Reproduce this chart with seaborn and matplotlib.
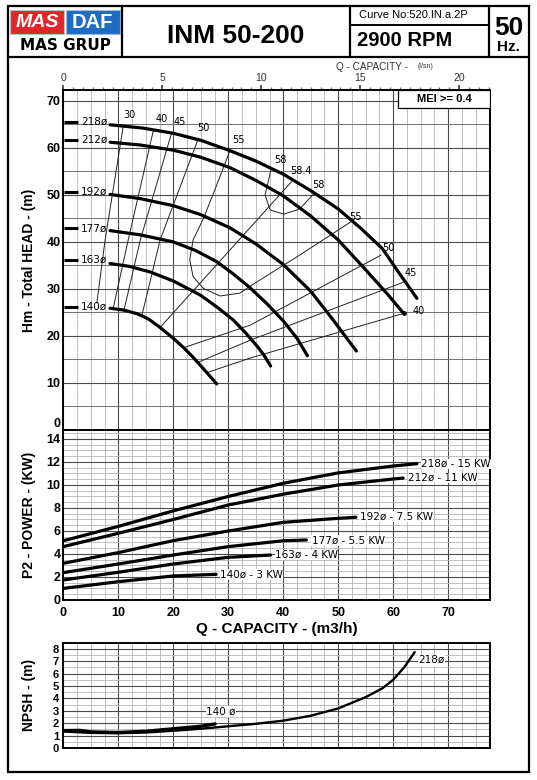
import matplotlib
matplotlib.use("Agg")
import matplotlib.pyplot as plt
import seaborn as sns
from matplotlib.patches import Rectangle
from matplotlib.lines import Line2D
from matplotlib.ticker import MultipleLocator

# pump curve INM 50-200, 2900 rpm
# head curves: Q (m3/h) vs H (m)
diameters = ["218ø", "212ø", "192ø", "177ø", "163ø", "140ø"]
q_head = [
    [8.5, 14.5, 20, 25, 30.3, 35, 40, 45, 50, 54, 58, 61, 64.3],
    [8.5, 14, 20, 25, 30.3, 35, 40, 45, 50, 54.5, 58.8, 61.9],
    [8.5, 14, 20, 25, 30.3, 35, 40, 45, 49, 53.3],
    [8.5, 14, 20, 24, 27.9, 31, 33.9, 37, 40, 42.5, 44.4],
    [8.5, 12, 15.8, 20, 24.9, 28, 30.9, 33.2, 35.2, 36.5, 37.7],
    [8.5, 11, 13.5, 15.5, 17.6, 19.8, 21.8, 23.5, 25.5, 27.9],
]
h_head = [
    [64.9, 64.2, 63.1, 61.6, 59.4, 57.2, 54.4, 50.9, 47.0, 43.0, 38.6, 33.5, 28.0],
    [61.2, 60.6, 59.5, 58.0, 55.8, 53.1, 49.8, 45.5, 40.4, 34.7, 29.1, 24.8],
    [50.1, 49.2, 47.7, 45.8, 43.0, 39.6, 35.2, 29.5, 23.5, 16.8],
    [42.4, 41.5, 40.0, 38.2, 35.8, 33.1, 30.3, 26.9, 23.2, 19.5, 15.8],
    [35.4, 34.8, 33.6, 31.7, 28.7, 26.1, 23.4, 20.6, 17.9, 15.9, 13.6],
    [25.9, 25.5, 24.7, 23.6, 21.8, 19.7, 17.6, 15.6, 13.0, 9.8],
]
head_label_h = [65.5, 61.7, 50.6, 42.9, 36.2, 26.2]

# efficiency lines (%)
eff_lines = {
    "30": ([10.9, 7.6, 6.1], [64.6, 40.4, 27.0]),
    "40": ([16.4, 11.8, 9.1], [63.8, 40.4, 26.0]),
    "45": ([19.7, 14.0, 11.0], [63.2, 40.4, 25.3]),
    "50": ([24.5, 17.6, 14.3], [61.8, 40.4, 24.4]),
    "55": ([30.3, 27.9, 25.5, 23.6, 23.0, 23.6, 25.5, 28.5, 32.1, 34.0, 43.0, 52.6],
           [59.4, 52.1, 45.0, 40.4, 36.2, 32.6, 30.1, 28.5, 29.1, 30.6, 37.2, 44.5]),
    "58": ([37.8, 36.7, 37.6, 40.1, 43.0, 45.6], [55.5, 50.0, 46.8, 45.9, 47.0, 50.3]),
    "58.4": ([17.6, 41.5], [21.8, 52.8]),
    "50r": ([21.9, 34.0, 57.8], [17.5, 22.3, 37.2]),
    "45r": ([24.5, 34.0, 61.8], [14.4, 19.1, 31.4]),
    "40r": ([26.1, 34.0, 61.9], [12.2, 15.3, 24.8]),
}
eff_labels = [("30", 12.1, 67.0), ("40", 17.9, 66.2), ("45", 21.2, 65.5),
              ("50", 25.5, 64.2), ("55", 31.8, 61.7), ("58", 39.4, 57.4),
              ("58.4", 43.3, 55.0), ("58", 46.4, 52.1), ("55", 53.2, 45.4),
              ("50", 59.1, 38.7), ("45", 63.2, 33.3), ("40", 64.7, 25.3)]

# power curves: Q (m3/h) vs P2 (kW)
q_power = [
    [0, 10, 20, 30, 40, 50, 60, 64.3],
    [0, 10, 20, 30, 40, 50, 60, 61.8],
    [0, 10, 20, 30, 40, 50, 53.2],
    [0, 10, 20, 30, 40, 44.2],
    [0, 10, 20, 30, 37.7],
    [0, 10, 20, 27.8],
]
p_power = [
    [5.15, 6.4, 7.75, 9.0, 10.15, 11.05, 11.65, 11.85],
    [4.64, 5.8, 7.0, 8.26, 9.2, 10.0, 10.52, 10.6],
    [3.19, 4.12, 5.16, 6.0, 6.75, 7.1, 7.19],
    [2.38, 3.13, 3.91, 4.64, 5.15, 5.22],
    [1.74, 2.41, 3.13, 3.71, 3.91],
    [1.01, 1.59, 2.09, 2.23],
]
power_labels = ["218ø - 15 KW", "212ø - 11 KW", "192ø - 7.5 KW",
                "177ø - 5.5 KW", "163ø - 4 KW", "140ø - 3 KW"]
power_label_q = [65.1, 62.7, 53.9, 45.2, 38.5, 28.5]
power_label_p = [11.83, 10.6, 7.25, 5.2, 3.91, 2.2]

# NPSH curves
q_npsh218 = [0, 5, 10, 15, 20, 25, 30, 35, 40, 45, 50, 55, 58, 60, 62, 63.9]
npsh218 = [1.33, 1.22, 1.19, 1.25, 1.39, 1.55, 1.75, 1.95, 2.2, 2.6, 3.19, 4.1, 4.8, 5.5, 6.5, 7.72]
q_npsh140 = [0, 3, 5, 10, 15, 20, 25, 27.6]
npsh140 = [1.4, 1.42, 1.3, 1.25, 1.35, 1.55, 1.75, 1.94]

W, H = 537, 780
def fx(x):
    return x / W
def fy(y):
    return 1 - y / H

sns.set_theme(style="white")
plt.rcParams["font.family"] = ["Liberation Sans", "DejaVu Sans"]
plt.rcParams["text.color"] = "black"
plt.rcParams["axes.labelcolor"] = "black"
plt.rcParams["xtick.color"] = "black"
plt.rcParams["ytick.color"] = "black"

fig = plt.figure(figsize=(W / 100, H / 100), dpi=100)

XMAX = 77.6
left, right = 63.3, 490
ax_h = fig.add_axes([fx(left), fy(430), fx(right) - fx(left), (430 - 90) / H])
ax_p = fig.add_axes([fx(left), fy(600), fx(right) - fx(left), (600 - 430) / H])
ax_n = fig.add_axes([fx(left), fy(748), fx(right) - fx(left), (748 - 642.5) / H])

major_c, minor_c = "#4a4a4a", "#b5b5b5"
for ax in (ax_h, ax_p, ax_n):
    ax.set_xlim(0, XMAX)
    ax.xaxis.set_major_locator(MultipleLocator(10))
    ax.xaxis.set_minor_locator(MultipleLocator(2.5))
    ax.grid(which="major", color=major_c, lw=0.8)
    ax.grid(which="minor", color=minor_c, lw=0.6)
    ax.set_axisbelow(True)
    for s in ax.spines.values():
        s.set_color("black")
        s.set_linewidth(1.4)
    ax.tick_params(which="both", length=0, pad=2)

# ---- head chart
ax_h.set_ylim(0, 72.3)
ax_h.set_yticks(range(0, 80, 10))
ax_h.set_yticklabels([str(v) for v in range(0, 80, 10)], fontweight="bold", fontsize=9)
ax_h.get_yticklabels()[0].set_verticalalignment("bottom")
ax_h.yaxis.set_minor_locator(MultipleLocator(5))
ax_h.grid(which="minor", axis="y", color="#707070", lw=0.7)
ax_h.set_xticklabels([])
ax_h.set_ylabel("Hm - Total HEAD - (m)", fontsize=10, fontweight="bold")

for name, (qs, hs) in eff_lines.items():
    sns.lineplot(x=qs, y=hs, ax=ax_h, color="#222222", lw=0.7, sort=False, estimator=None)
ax_h.plot([61.9], [24.8], "o", color="k", ms=2.5)
for txt, q, h in eff_labels:
    ax_h.text(q, h, txt, fontsize=7, ha="center", va="center", family="DejaVu Sans")

for d, qs, hs, hl in zip(diameters, q_head, h_head, head_label_h):
    sns.lineplot(x=qs, y=hs, ax=ax_h, color="black", lw=2.3, sort=False, estimator=None)
    ax_h.plot([0.2, 2.6], [hl, hl], color="black", lw=2.2, solid_capstyle="butt")
    ax_h.text(5.6, hl, d, fontsize=7.5, ha="center", va="center", family="DejaVu Sans")

ax_h.add_patch(Rectangle((60.9, 68.4), XMAX - 60.9, 3.9, facecolor="white",
                         edgecolor="black", lw=0.9, zorder=5))
ax_h.text(69.3, 70.35, "MEI >= 0.4", fontsize=8, fontweight="bold",
          ha="center", va="center", zorder=6)

sec = ax_h.secondary_xaxis("top", functions=(lambda q: q / 3.6, lambda l: l * 3.6))
sec.set_xticks([0, 5, 10, 15, 20])
sec.xaxis.set_minor_locator(MultipleLocator(0.5))
sec.tick_params(which="major", length=3.5, labelsize=7.5, labelcolor="#333333", pad=1.5, color="#444444")
sec.tick_params(which="minor", length=2.5, color="#666666")
sec.spines["top"].set_visible(False)
fig.text(fx(372), fy(67), "Q - CAPACITY -", fontsize=7.2, color="#333333", ha="center", va="center")
fig.text(fx(426), fy(66), "(l/sn)", fontsize=5, color="#333333", ha="center", va="center")

# ---- power chart
ax_p.set_ylim(0, 14.78)
ax_p.set_yticks(range(0, 16, 2))
ax_p.set_yticklabels([str(v) for v in range(0, 16, 2)], fontweight="bold", fontsize=9)
ax_p.yaxis.set_minor_locator(MultipleLocator(0.5))
ax_p.set_xticks(range(0, 80, 10))
ax_p.set_xticklabels([str(v) for v in range(0, 80, 10)], fontweight="bold", fontsize=9)
ax_p.tick_params(axis="x", pad=5)
ax_p.set_ylabel("P2 - POWER - (KW)", fontsize=10, fontweight="bold")
ax_p.set_xlabel("Q - CAPACITY - (m3/h)", fontsize=11, fontweight="bold", labelpad=2)
for qs, ps, lab, lq, lp in zip(q_power, p_power, power_labels, power_label_q, power_label_p):
    sns.lineplot(x=qs, y=ps, ax=ax_p, color="black", lw=2.3, sort=False, estimator=None)
    ax_p.text(lq, lp, lab, fontsize=7.5, ha="left", va="center", zorder=5,
              family="DejaVu Sans",
              bbox=dict(facecolor="white", edgecolor="none", pad=0.3))

# ---- NPSH chart
ax_n.set_ylim(0, 8.5)
ax_n.set_yticks(range(0, 9))
ax_n.set_yticklabels([str(v) for v in range(0, 9)], fontweight="bold", fontsize=8)
ax_n.yaxis.set_minor_locator(MultipleLocator(0.5))
ax_n.set_xticklabels([])
ax_n.tick_params(axis="y", pad=3)
ax_n.set_ylabel("NPSH - (m)", fontsize=10, fontweight="bold")
sns.lineplot(x=q_npsh218, y=npsh218, ax=ax_n, color="black", lw=1.7, sort=False, estimator=None)
sns.lineplot(x=q_npsh140, y=npsh140, ax=ax_n, color="black", lw=2.4, sort=False, estimator=None)
ax_n.text(66.9, 7.08, "218ø", fontsize=7.5, ha="center", va="center", family="DejaVu Sans",
          bbox=dict(facecolor="white", edgecolor="none", pad=0.3))
ax_n.text(28.7, 2.94, "140 ø", fontsize=7.5, ha="center", va="center", family="DejaVu Sans",
          bbox=dict(facecolor="white", edgecolor="none", pad=0.3))

# align y labels on the left
for ax in (ax_h, ax_p, ax_n):
    ax.yaxis.set_label_coords(-(63.3 - 36) / (right - left), 0.5)

# ---- frame and header
fig.add_artist(Rectangle((fx(7.6), fy(772)), fx(529) - fx(7.6), fy(6.2) - fy(772),
                         transform=fig.transFigure, fill=False, lw=1.6, ec="black"))
fig.add_artist(Line2D([fx(7.6), fx(529)], [fy(56.7)] * 2, transform=fig.transFigure, color="black", lw=1.6))
for xv in (122, 350, 488.6):
    fig.add_artist(Line2D([fx(xv)] * 2, [fy(6.2), fy(56.7)], transform=fig.transFigure, color="black", lw=1.6))
fig.add_artist(Line2D([fx(350), fx(488.6)], [fy(24.7)] * 2, transform=fig.transFigure, color="black", lw=1.4))

fig.add_artist(Rectangle((fx(10.3), fy(34.4)), fx(64.3) - fx(10.3), fy(9.6) - fy(34.4),
                         transform=fig.transFigure, facecolor="#e3242b", edgecolor="#c0c0c0", lw=0.8))
fig.add_artist(Rectangle((fx(66), fy(34.4)), fx(119.6) - fx(66), fy(9.6) - fy(34.4),
                         transform=fig.transFigure, facecolor="#1f6cc0", edgecolor="#9db8d8", lw=0.8))
fig.text(fx(37.3), fy(22.5), "MAS", fontsize=14, fontweight="bold", style="italic",
         color="white", ha="center", va="center")
fig.text(fx(92.8), fy(22.5), "DAF", fontsize=14.5, fontweight="bold", color="white",
         ha="center", va="center")
fig.text(fx(65), fy(45), "MAS GRUP", fontsize=11, fontweight="bold", family="DejaVu Sans",
         ha="center", va="center")

fig.text(fx(236), fy(36), "INM 50-200", fontsize=19, fontweight="bold",
         ha="center", va="center")
fig.text(fx(413), fy(15), "Curve No:520.IN.a.2P", fontsize=8, ha="center", va="center")
fig.text(fx(405), fy(41), "2900 RPM", fontsize=14.5, fontweight="bold", ha="center", va="center")
fig.text(fx(508.5), fy(28), "50", fontsize=19, fontweight="bold", ha="center", va="center")
fig.text(fx(508), fy(47), "Hz.", fontsize=11, fontweight="bold", ha="center", va="center")

fig.savefig("out.png", dpi=100)
